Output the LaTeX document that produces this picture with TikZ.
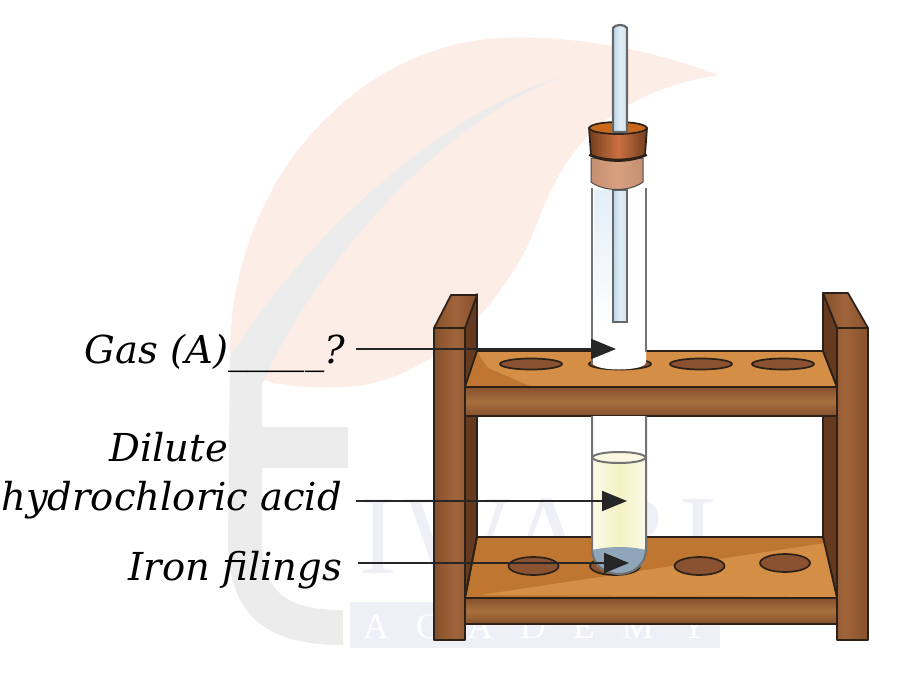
\documentclass[tikz,border=0pt]{standalone}
\usepackage{fontspec}
\setmainfont{DejaVu Serif}
\newfontfamily\markfont[LetterSpace=7]{Liberation Serif}
\usetikzlibrary{arrows.meta,shapes.geometric}
\definecolor{leafpink}{HTML}{FDEDE7}
\definecolor{markgray}{HTML}{ECECEC}
\definecolor{marklav}{HTML}{EFEFF7}
\definecolor{woodline}{HTML}{2B2118}
\definecolor{wooddark}{HTML}{653A1F}
\definecolor{woodmid}{HTML}{A0643A}
\definecolor{woodedge}{HTML}{86502B}
\definecolor{woodshelf}{HTML}{A8703F}
\definecolor{woodtop}{HTML}{D48E45}
\definecolor{woodshade}{HTML}{BE7630}
\definecolor{holefill}{HTML}{8A5230}
\definecolor{corkdark}{HTML}{A4582C}
\definecolor{corkmid}{HTML}{CC7242}
\definecolor{corklight}{HTML}{D9A07E}
\definecolor{rodblue}{HTML}{B9D6EA}
\definecolor{acidpale}{HTML}{F4F2C4}
\definecolor{filings}{HTML}{8FA6BA}
\tikzset{label/.style = {anchor = base east,inner xsep = 6pt,outer sep = 0pt,align = center,font = \fontsize{38.5}{49}\selectfont\itshape},
arrow/.style = {-{Triangle[length = 25pt,width = 20pt]},line width = 2.1pt,draw = black!85},
wood/.style = {draw = woodline,line width = 1.7pt,line join = round},
post/.style = {wood,left color = woodedge,right color = woodedge,middle color = woodmid},
board/.style = {wood,top color = woodedge,bottom color = woodedge,middle color = woodshelf},
hole/.style = {ellipse,draw = woodline,line width = 1.7pt,fill = holefill,inner sep = 0pt,minimum width = #1},
glass/.style = {draw = black!55,line width = 2pt},
rod/.style = {draw = black!60,line width = 2.2pt,left color = rodblue,right color = rodblue!70,middle color = rodblue!40}}

\begin{document}
\begin{tikzpicture}[x = 1pt,y = -1pt]
\useasboundingbox (0,0) rectangle (918,686);

% watermark
\fill[leafpink] (718,75) .. controls (640,45) and (560,35) .. (500,38) .. controls (430,42) and (370,75) .. (330,115) .. controls (270,170) and (230,260) .. (230,353) .. controls (232,380) and (290,390) .. (343,387) .. controls (420,385) and (490,320) .. (527,247) .. controls (550,200) and (565,100) .. (718,75) -- cycle;
\fill[markgray] (570,75) .. controls (450,105) and (310,230) .. (230,357) -- (228,540) .. controls (228,615) and (265,645) .. (343,645) -- (343,610) .. controls (290,610) and (262,595) .. (262,540) -- (262,468) -- (348,468) -- (348,427) -- (262,427) -- (262,385) .. controls (310,270) and (450,110) .. (570,75) -- cycle;
\fill[marklav] (350,602) rectangle (720,648);
\node[text = marklav,font = \fontsize{113}{113}\selectfont\markfont,inner sep = 0pt,anchor = base] (tiwari) at (538,573) {IWARI};
\node[text = white,font = \fontsize{36}{36}\selectfont,inner sep = 0pt,anchor = base] (academy) at (535,638) {\fontspec{Liberation Serif}A\hspace{27pt}C\hspace{27pt}A\hspace{27pt}D\hspace{27pt}E\hspace{27pt}M\hspace{27pt}Y};

% sides of the posts
\draw[wood,fill = wooddark] (465,328) -- (477,294) -- (477,537) -- (465,598) -- cycle;
\draw[wood,fill = wooddark] (837,328) -- (823,293) -- (823,537) -- (837,598) -- cycle;

% lower shelf
\draw[wood,fill = woodshade] (477,537) -- (823,537) -- (837,598) -- (465,598) -- cycle;
\fill[woodtop] (480,595) -- (825,543) -- (836,597) -- cycle;
\draw[wood] (477,537) -- (823,537) -- (837,598) -- (465,598) -- cycle;
\draw[board] (465,598) rectangle (837,624);
\node[hole = 50pt,minimum height = 18pt] (holeg) at (533.5,566) {};
\node[hole = 50pt,minimum height = 18pt] (holeh) at (615,566) {};
\node[hole = 50pt,minimum height = 18pt] (holei) at (699.5,566) {};
\node[hole = 50pt,minimum height = 18pt] (holej) at (785,563) {};

% upper shelf
\draw[wood,fill = woodtop] (477,351) -- (823,351) -- (837,387) -- (465,387) -- cycle;
\fill[woodshade] (466,386) -- (477,352) -- (488,368) -- (530,386) -- cycle;
\draw[wood] (477,351) -- (823,351) -- (837,387) -- (465,387) -- cycle;
\draw[board] (465,387) rectangle (837,416);
\node[hole = 62pt,minimum height = 11pt] (holea) at (531,364) {};
\node[hole = 62pt,minimum height = 11pt] (holeb) at (620,364) {};
\node[hole = 62pt,minimum height = 11pt] (holec) at (701,364) {};
\node[hole = 62pt,minimum height = 11pt] (holed) at (783,364) {};

% posts
\draw[post] (434,328) -- (451,295) -- (477,295) -- (465,328) -- (465,640) -- (434,640) -- cycle;
\draw[wood] (434,328) -- (465,328);
\draw[post] (837,328) -- (823,293) -- (848,293) -- (868,328) -- (868,640) -- (837,640) -- cycle;
\draw[wood] (837,328) -- (868,328);

% upper part of the tube
\fill[white] (592,188) -- (646,188) -- (646,362) .. controls (646,372) and (592,372) .. (592,362) -- cycle;
\fill[top color = rodblue!40,bottom color = white] (594,190) rectangle (612,330);
\draw[glass] (592,188) -- (592,364);
\draw[glass] (646,188) -- (646,352);
\draw[rod] (613,190) -- (627,190) -- (627,322) -- (613,322) -- cycle;

% stopper
\draw[draw = black!70,line width = 1pt,left color = corklight!90!black,right color = corklight!90!black,middle color = corklight] (591,158) -- (643,158) -- (643,182) .. controls (630,192) and (604,192) .. (591,182) -- cycle;
\draw[wood,left color = corkdark!70!black,right color = corkdark!70!black,middle color = corkmid] (589,128) .. controls (590,134) and (645,134) .. (647,128) -- (645,155) .. controls (630,161) and (605,161) .. (591,155) -- cycle;
\draw[wood,fill = corkdark!60!orange] (589,128) .. controls (592,120) and (644,120) .. (647,128) .. controls (644,136) and (592,136) .. (589,128) -- cycle;
\draw[rod] (613,28) .. controls (615,24) and (625,24) .. (627,28) -- (627,132) -- (613,132) -- cycle;
\draw[wood] (589,155) .. controls (605,163) and (630,163) .. (647,155);

% lower part of the tube
\fill[white] (592,416) -- (646,416) -- (646,457) -- (592,457) -- cycle;
\fill[left color = acidpale!40,right color = acidpale!40,middle color = acidpale] (592,457) -- (646,457) -- (646,552) -- (592,552) -- cycle;
\fill[filings] (592,550) .. controls (610,546) and (630,546) .. (646,550) -- (646,552) .. controls (646,568) and (632,574) .. (619,574) .. controls (606,574) and (592,568) .. (592,552) -- cycle;
\draw[glass] (592,416) -- (592,548) .. controls (592,566) and (606,574) .. (619,574) .. controls (632,574) and (646,566) .. (646,548) -- (646,416);
\draw[glass,fill = acidpale!50] (619,457.5) ellipse [x radius = 26.5,y radius = 5.5];

% labels
\coordinate (gastip) at (616,349);
\coordinate (acidtip) at (627,501);
\coordinate (irontip) at (629,563);
\node[label] (gas) at (351,363) {Gas (A)\_\_\_\_\_?};
\node[label] (acid) at (348,510) {hydrochloric acid};
\node[label] (dilute) at (234,461) {Dilute};
\node[label] (iron) at (348,580) {Iron filings};
\draw[arrow] (gas.east |- gastip) ++(5,0) -- (gastip);
\draw[arrow] (acid.east |- acidtip) ++(8,0) -- (acidtip);
\draw[arrow] (iron.east |- irontip) ++(10,0) -- (irontip);
\end{tikzpicture}
\end{document}
